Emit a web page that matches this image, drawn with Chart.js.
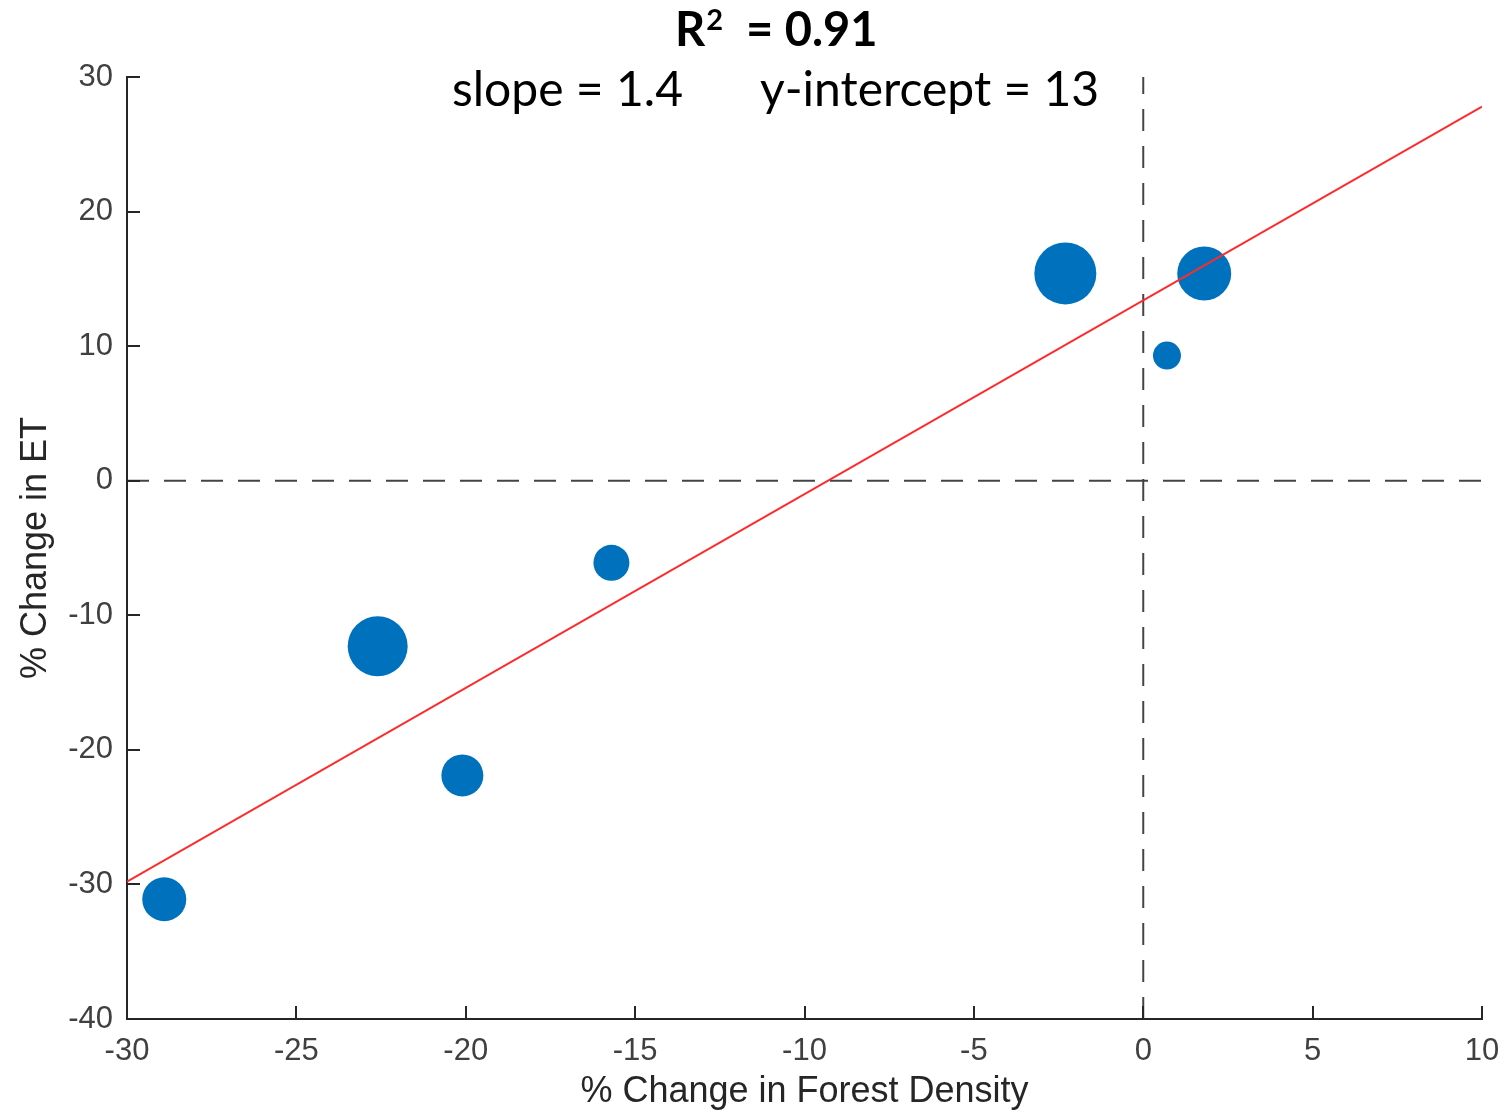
<!DOCTYPE html>
<html>
<head>
<meta charset="utf-8">
<script src="https://cdn.jsdelivr.net/npm/chart.js@4"></script>
<style>
  html, body { margin: 0; padding: 0; background: #fff; }
  #wrap { width: 1508px; height: 1116px; }
</style>
</head>
<body>
<div id="wrap"><canvas id="grafico"></canvas></div>
<script>
// data
const forestChange = [-28.9, -22.6, -20.1, -15.7, -2.3, 1.8, 0.7];
const etChange     = [-31.1, -12.3, -21.9, -6.1, 15.4, 15.4, 9.3];
const bubbleRadius = [22, 30, 21, 18, 31, 27, 14];

// fitted line end points (x = -30 and x = 10)
const fitX = [-30, 10];
const fitY = [-29.8, 27.8];

const xTicks = [-30, -25, -20, -15, -10, -5, 0, 5, 10];
const yTicks = [-40, -30, -20, -10, 0, 10, 20, 30];

const fitStats = { r2: '0.91', slope: '1.4', intercept: '13' };

const bubbles = forestChange.map((x, i) => ({ x: x, y: etChange[i], r: bubbleRadius[i] }));

// header text (R² and fit numbers)
const headerPlugin = {
    id: 'header',
    afterDraw(chart) {
        const c = chart.ctx;
        c.save();
        c.fillStyle = '#000';
        c.textBaseline = 'alphabetic';
        c.textAlign = 'left';
        c.font = 'bold 47px Lato';
        c.fillText('R', 675, 46);
        const rw = c.measureText('R').width;
        c.font = 'bold 29px Lato';
        c.fillText('2', 675 + rw + 1, 30);
        c.font = 'bold 47px Lato';
        c.fillText('= ' + fitStats.r2, 746, 46);

        c.font = '48px Lato';
        c.fillText('slope = ' + fitStats.slope, 452, 106);
        c.fillText('y-intercept = ' + fitStats.intercept, 760, 106);
        c.restore();
    }
};

// MATLAB style ticks pointing into the plot
const innerTicks = {
    id: 'innerTicks',
    afterDraw(chart) {
        const c = chart.ctx;
        const xs = chart.scales.x, ys = chart.scales.y;
        const area = chart.chartArea;
        c.save();
        c.strokeStyle = '#262626';
        c.lineWidth = 2;
        c.beginPath();
        xTicks.forEach(v => {
            const px = Math.round(xs.getPixelForValue(v));
            c.moveTo(px, area.bottom);
            c.lineTo(px, area.bottom - 13);
        });
        yTicks.forEach(v => {
            const py = Math.round(ys.getPixelForValue(v));
            c.moveTo(area.left, py);
            c.lineTo(area.left + 13, py);
        });
        c.stroke();
        c.restore();
    }
};

const axisFont = { family: 'Liberation Sans', size: 31 };
// invisible outer tick space, used only to push labels off the axis
const hiddenGrid = { drawOnChartArea: false, drawTicks: true, tickLength: 14, tickColor: 'rgba(0,0,0,0)' };

new Chart(document.getElementById('grafico'), {
    type: 'scatter',
    data: {
        datasets: [
            {
                type: 'line',
                data: fitX.map((x, i) => ({ x: x, y: fitY[i] })),
                borderColor: '#ff2a2a',
                borderWidth: 2,
                pointRadius: 0,
                fill: false,
                order: 0
            },
            {
                type: 'bubble',
                data: bubbles,
                backgroundColor: '#0072bd',
                borderColor: '#0072bd',
                borderWidth: 0,
                order: 1
            },
            {
                type: 'line',
                data: [{ x: xTicks[0], y: 0 }, { x: xTicks[xTicks.length - 1], y: 0 }],
                borderColor: '#444',
                borderWidth: 2,
                borderDash: [22, 15],
                pointRadius: 0,
                order: 2
            },
            {
                type: 'line',
                data: [{ x: 0, y: yTicks[0] }, { x: 0, y: yTicks[yTicks.length - 1] }],
                borderColor: '#444',
                borderWidth: 2,
                borderDash: [22, 15],
                pointRadius: 0,
                order: 2
            }
        ]
    },
    options: {
        responsive: true,
        maintainAspectRatio: false,
        animation: false,
        layout: { autoPadding: false, padding: { top: 77, right: 26, left: 0, bottom: 0 } },
        scales: {
            x: {
                type: 'linear',
                min: -30,
                max: 10,
                afterBuildTicks: s => { s.ticks = xTicks.map(v => ({ value: v })); },
                afterFit: s => { s.height = 97; },
                ticks: { color: '#404040', font: axisFont, padding: 0, maxRotation: 0 },
                grid: hiddenGrid,
                border: { color: '#262626', width: 2 },
                title: {
                    display: true,
                    text: '% Change in Forest Density',
                    color: '#262626',
                    font: { family: 'Liberation Sans', size: 36 },
                    padding: { top: 0, bottom: 2 }
                }
            },
            y: {
                type: 'linear',
                min: -40,
                max: 30,
                afterBuildTicks: s => { s.ticks = yTicks.map(v => ({ value: v })); },
                afterFit: s => { s.width = 127; },
                ticks: { color: '#404040', font: axisFont, padding: 0 },
                grid: hiddenGrid,
                border: { color: '#262626', width: 2 },
                title: {
                    display: true,
                    text: '% Change in ET',
                    color: '#262626',
                    font: { family: 'Liberation Sans', size: 36 },
                    padding: { top: 14, bottom: 0 }
                }
            }
        },
        plugins: {
            legend: { display: false },
            tooltip: { enabled: false }
        }
    },
    plugins: [innerTicks, headerPlugin]
});
</script>
</body>
</html>
